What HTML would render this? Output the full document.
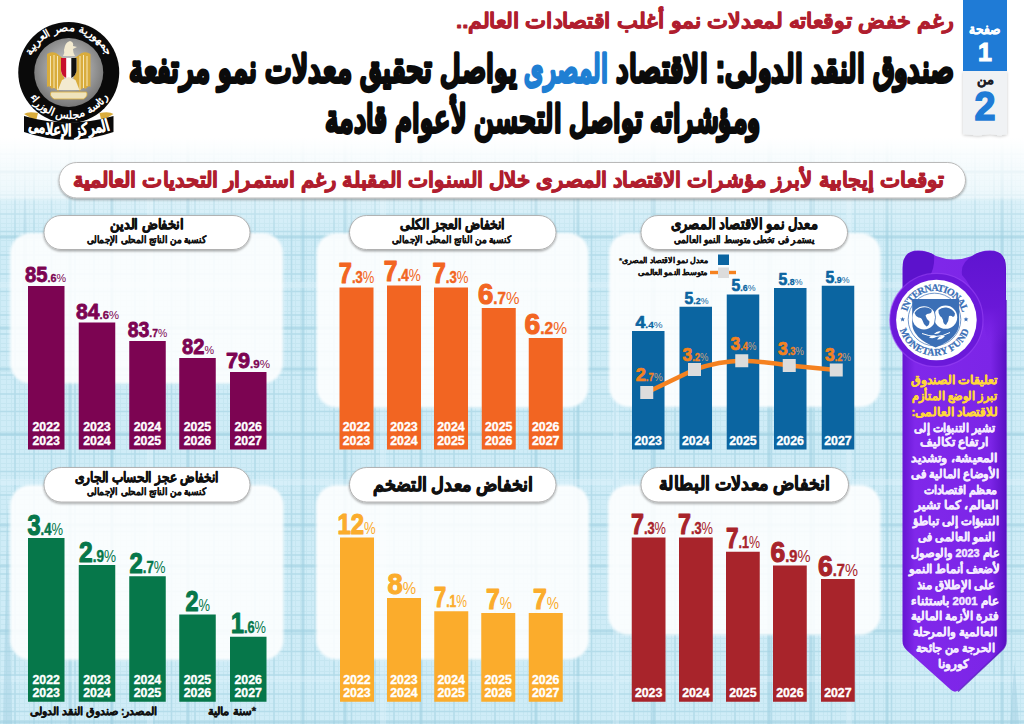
<!DOCTYPE html>
<html lang="ar">
<head>
<meta charset="utf-8">
<title>صندوق النقد الدولى: الاقتصاد المصرى يواصل تحقيق معدلات نمو مرتفعة</title>
<style>
html,body{margin:0;padding:0;background:#fff;}
body{width:1024px;height:724px;overflow:hidden;font-family:"Liberation Sans",sans-serif;}
svg{display:block;font-family:"Liberation Sans",sans-serif;}
</style>
</head>
<body>
<svg width="1024" height="724" viewBox="0 0 1024 724">
<defs>
<linearGradient id="bgfade" x1="0" y1="0" x2="0" y2="1">
 <stop offset="0" stop-color="#fff" stop-opacity="1"/>
 <stop offset="0.19" stop-color="#fff" stop-opacity="1"/>
 <stop offset="0.272" stop-color="#fff" stop-opacity=".6"/>
 <stop offset="0.278" stop-color="#fff" stop-opacity=".25"/>
 <stop offset="0.33" stop-color="#fff" stop-opacity="0"/>
</linearGradient>
<pattern id="fine" width="60" height="60" patternUnits="userSpaceOnUse">
 <rect width="60" height="60" fill="#cfecf7"/>
 <path d="M0 .5H60M0 6.5H60M0 11.5H60M0 19.5H60M0 24.5H60M0 29.5H60M0 38.5H60M0 43.5H60M0 47.5H60M0 55.5H60M.5 0V60M6.5 0V60M11.5 0V60M19.5 0V60M24.5 0V60M29.5 0V60M38.5 0V60M43.5 0V60M47.5 0V60M55.5 0V60" stroke="#c5e6f1" stroke-width="1"/>
 <path d="M0 15H60M0 34H60M0 51.5H60M15 0V60M34 0V60M51.5 0V60" stroke="#b4dcea" stroke-width="1.6"/>
</pattern>
<pattern id="coarse" width="233" height="197" patternUnits="userSpaceOnUse">
 <path d="M0 40H233M0 131H233M0 172H233" stroke="#9fd0e1" stroke-width="3" opacity=".6"/>
 <path d="M70 0V197M188 0V197M112 0V197" stroke="#9fd0e1" stroke-width="3" opacity=".6"/>
 <path d="M0 88H233M150 0V197" stroke="#e3f4fb" stroke-width="6" opacity=".35"/>
</pattern>
<filter id="sh" x="-5%" y="-20%" width="110%" height="150%">
 <feDropShadow dx="0" dy="1.4" stdDeviation="1.1" flood-color="#000" flood-opacity=".34"/>
</filter>
<filter id="sh2" x="-20%" y="-10%" width="140%" height="130%">
 <feDropShadow dx="0" dy="1" stdDeviation="1.5" flood-color="#000" flood-opacity=".22"/>
</filter>
<filter id="soft" x="-5%" y="-5%" width="110%" height="110%"><feGaussianBlur stdDeviation="1.1"/></filter>
<linearGradient id="rib" x1="0" y1="0" x2="1" y2="0">
 <stop offset="0" stop-color="#6515d2"/><stop offset=".12" stop-color="#8028ea"/>
 <stop offset=".85" stop-color="#7c25e7"/><stop offset="1" stop-color="#5a10c4"/>
</linearGradient>
<linearGradient id="shR" x1="0" y1="0" x2="0" y2="1"><stop offset="0" stop-color="#5f14d0"/><stop offset=".6" stop-color="#6a18d8"/><stop offset="1" stop-color="#7a22e6" stop-opacity="0"/></linearGradient>
<radialGradient id="gray" cx=".5" cy=".45" r=".6">
 <stop offset="0" stop-color="#d9d9d9"/><stop offset="1" stop-color="#6d6d6d"/>
</radialGradient>
</defs>
<rect width="1024" height="724" fill="url(#fine)"/>
<rect width="1024" height="724" fill="url(#coarse)"/>
<path d="M3 724 L7.5 500 L12 724Z M1010 724 L1014.5 662 L1019 724Z M22 300 L25 150 L28 300Z" fill="#9fcfe0" opacity=".45"/>
<rect width="1024" height="724" fill="url(#bgfade)"/>
<g id="header">
<text x="954" y="27.5" direction="rtl" text-anchor="start" textLength="498" lengthAdjust="spacingAndGlyphs" font-size="21" font-weight="bold" fill="#b01e2e" stroke="#b01e2e" stroke-width="0.9" stroke-linejoin="round">رغم خفض توقعاته لمعدلات نمو أغلب اقتصادات العالم..</text>
<text x="954" y="81.5" direction="rtl" text-anchor="start" textLength="338" lengthAdjust="spacingAndGlyphs" font-size="38" font-weight="bold" fill="#0b0b0b" stroke="#0b0b0b" stroke-width="2.8" stroke-linejoin="round">صندوق النقد الدولى: الاقتصاد</text>
<text x="608" y="81.5" direction="rtl" text-anchor="start" textLength="84" lengthAdjust="spacingAndGlyphs" font-size="38" font-weight="bold" fill="#1f7fd3" stroke="#1f7fd3" stroke-width="2.8" stroke-linejoin="round">المصرى</text>
<text x="517" y="81.5" direction="rtl" text-anchor="start" textLength="388" lengthAdjust="spacingAndGlyphs" font-size="38" font-weight="bold" fill="#0b0b0b" stroke="#0b0b0b" stroke-width="2.8" stroke-linejoin="round">يواصل تحقيق معدلات نمو مرتفعة</text>
<text x="760" y="132.3" direction="rtl" text-anchor="start" textLength="435" lengthAdjust="spacingAndGlyphs" font-size="38" font-weight="bold" fill="#0b0b0b" stroke="#0b0b0b" stroke-width="2.8" stroke-linejoin="round">ومؤشراته تواصل التحسن لأعوام قادمة</text>
</g>
<g id="pager">
<path d="M963 71H1007V134L1000 135.5L990 134L978 135.5L963 134Z" fill="#f0f2f4" filter="url(#sh2)"/>
<rect x="963" y="0" width="44" height="71" fill="#1f7bd6"/>
<text x="1000.5" y="33.8" direction="rtl" text-anchor="start" textLength="31.5" lengthAdjust="spacingAndGlyphs" font-size="13.5" font-weight="bold" fill="#fff" stroke="#fff" stroke-width="0.45" stroke-linejoin="round">صفحة</text>
<text x="985" y="61" text-anchor="middle" font-size="25" font-weight="bold" fill="#fff" stroke="#fff" stroke-width="1">1</text>
<text x="993.5" y="83.5" direction="rtl" text-anchor="start" textLength="17" lengthAdjust="spacingAndGlyphs" font-size="12.5" font-weight="bold" fill="#1c1c26" stroke="#1c1c26" stroke-width="0.4" stroke-linejoin="round">من</text>
<text x="985" y="120" text-anchor="middle" textLength="21" lengthAdjust="spacingAndGlyphs" font-size="41" font-weight="bold" fill="#1f7bd6" stroke="#1f7bd6" stroke-width="1.6">2</text>
</g>
<g id="subtitle">
<rect x="59" y="162.5" width="906.5" height="35.5" rx="17.75" fill="#fff" stroke="#b9b9b9" stroke-width="1" filter="url(#sh)"/>
<text x="944" y="186.7" direction="rtl" text-anchor="start" textLength="871.5" lengthAdjust="spacingAndGlyphs" font-size="21" font-weight="bold" fill="#b01e2e" stroke="#b01e2e" stroke-width="1.0" stroke-linejoin="round">توقعات إيجابية لأبرز مؤشرات الاقتصاد المصرى خلال السنوات المقبلة رغم استمرار التحديات العالمية</text>
</g>
<g id="panels">
<rect x="11" y="234" width="271" height="148.5" rx="19" fill="#fff" fill-opacity=".88" stroke="#fff" stroke-opacity=".5" stroke-width="3" filter="url(#soft)"/>
<rect x="317.5" y="234" width="270.0" height="172.5" rx="19" fill="#fff" fill-opacity=".88" stroke="#fff" stroke-opacity=".5" stroke-width="3" filter="url(#soft)"/>
<rect x="610" y="234" width="269.5" height="172" rx="19" fill="#fff" fill-opacity=".88" stroke="#fff" stroke-opacity=".5" stroke-width="3" filter="url(#soft)"/>
<rect x="11" y="486" width="271.5" height="173" rx="19" fill="#fff" fill-opacity=".88" stroke="#fff" stroke-opacity=".5" stroke-width="3" filter="url(#soft)"/>
<rect x="317" y="486" width="271" height="172.5" rx="19" fill="#fff" fill-opacity=".88" stroke="#fff" stroke-opacity=".5" stroke-width="3" filter="url(#soft)"/>
<rect x="609" y="486" width="270.5" height="148" rx="19" fill="#fff" fill-opacity=".88" stroke="#fff" stroke-opacity=".5" stroke-width="3" filter="url(#soft)"/>
</g>
<g id="chart-debt">
<rect x="28" y="286" width="36.5" height="163.5" fill="#7c0452"/>
<rect x="78.75" y="322.5" width="36.5" height="127.0" fill="#7c0452"/>
<rect x="129.25" y="341" width="36.5" height="108.5" fill="#7c0452"/>
<rect x="179.25" y="358" width="36.5" height="91.5" fill="#7c0452"/>
<rect x="230" y="372" width="36.5" height="77.5" fill="#7c0452"/>
<text x="25" y="282.4" textLength="41" lengthAdjust="spacingAndGlyphs" font-weight="bold" fill="#7c0452" stroke="#7c0452" stroke-linejoin="round"><tspan font-size="21.5" stroke-width="0.86">85</tspan><tspan font-size="11.5" stroke-width="0.34">.6</tspan><tspan font-size="11.5" font-weight="normal" fill="#7c0452" stroke="none">%</tspan></text>
<text x="76" y="318.9" textLength="43" lengthAdjust="spacingAndGlyphs" font-weight="bold" fill="#7c0452" stroke="#7c0452" stroke-linejoin="round"><tspan font-size="21.5" stroke-width="0.86">84</tspan><tspan font-size="11.5" stroke-width="0.34">.6</tspan><tspan font-size="11.5" font-weight="normal" fill="#7c0452" stroke="none">%</tspan></text>
<text x="127.75" y="337.4" textLength="39.5" lengthAdjust="spacingAndGlyphs" font-weight="bold" fill="#7c0452" stroke="#7c0452" stroke-linejoin="round"><tspan font-size="21.5" stroke-width="0.86">83</tspan><tspan font-size="11.5" stroke-width="0.34">.7</tspan><tspan font-size="11.5" font-weight="normal" fill="#7c0452" stroke="none">%</tspan></text>
<text x="182" y="354.4" textLength="32" lengthAdjust="spacingAndGlyphs" font-weight="bold" fill="#7c0452" stroke="#7c0452" stroke-linejoin="round"><tspan font-size="21.5" stroke-width="0.86">82</tspan><tspan font-size="11.5" font-weight="normal" fill="#7c0452" stroke="none">%</tspan></text>
<text x="226" y="368.4" textLength="44" lengthAdjust="spacingAndGlyphs" font-weight="bold" fill="#7c0452" stroke="#7c0452" stroke-linejoin="round"><tspan font-size="21.5" stroke-width="0.86">79</tspan><tspan font-size="11.5" stroke-width="0.34">.9</tspan><tspan font-size="11.5" font-weight="normal" fill="#7c0452" stroke="none">%</tspan></text>
<text x="46.25" y="431" text-anchor="middle" textLength="27.5" lengthAdjust="spacingAndGlyphs" font-size="12.4" font-weight="bold" fill="#fff" stroke="#fff" stroke-width=".35">2022</text>
<text x="46.25" y="445" text-anchor="middle" textLength="27.5" lengthAdjust="spacingAndGlyphs" font-size="12.4" font-weight="bold" fill="#fff" stroke="#fff" stroke-width=".35">2023</text>
<text x="97.0" y="431" text-anchor="middle" textLength="27.5" lengthAdjust="spacingAndGlyphs" font-size="12.4" font-weight="bold" fill="#fff" stroke="#fff" stroke-width=".35">2023</text>
<text x="97.0" y="445" text-anchor="middle" textLength="27.5" lengthAdjust="spacingAndGlyphs" font-size="12.4" font-weight="bold" fill="#fff" stroke="#fff" stroke-width=".35">2024</text>
<text x="147.5" y="431" text-anchor="middle" textLength="27.5" lengthAdjust="spacingAndGlyphs" font-size="12.4" font-weight="bold" fill="#fff" stroke="#fff" stroke-width=".35">2024</text>
<text x="147.5" y="445" text-anchor="middle" textLength="27.5" lengthAdjust="spacingAndGlyphs" font-size="12.4" font-weight="bold" fill="#fff" stroke="#fff" stroke-width=".35">2025</text>
<text x="197.5" y="431" text-anchor="middle" textLength="27.5" lengthAdjust="spacingAndGlyphs" font-size="12.4" font-weight="bold" fill="#fff" stroke="#fff" stroke-width=".35">2025</text>
<text x="197.5" y="445" text-anchor="middle" textLength="27.5" lengthAdjust="spacingAndGlyphs" font-size="12.4" font-weight="bold" fill="#fff" stroke="#fff" stroke-width=".35">2026</text>
<text x="248.25" y="431" text-anchor="middle" textLength="27.5" lengthAdjust="spacingAndGlyphs" font-size="12.4" font-weight="bold" fill="#fff" stroke="#fff" stroke-width=".35">2026</text>
<text x="248.25" y="445" text-anchor="middle" textLength="27.5" lengthAdjust="spacingAndGlyphs" font-size="12.4" font-weight="bold" fill="#fff" stroke="#fff" stroke-width=".35">2027</text>
<rect x="44" y="215.5" width="206" height="34.0" rx="17.0" fill="#fff" stroke="#acacac" stroke-width=".9" filter="url(#sh)"/>
<text x="184" y="229" direction="rtl" text-anchor="start" textLength="74" lengthAdjust="spacingAndGlyphs" font-size="14" font-weight="bold" fill="#111" stroke="#111" stroke-width="0.7" stroke-linejoin="round">انخفاض الدين</text>
<text x="206" y="243" direction="rtl" text-anchor="start" textLength="119" lengthAdjust="spacingAndGlyphs" font-size="10" font-weight="bold" fill="#111" stroke="#111" stroke-width="0.3" stroke-linejoin="round">كنسبة من الناتج المحلى الإجمالى</text>
</g>
<g id="chart-deficit">
<rect x="339.5" y="287.5" width="34" height="162.0" fill="#f26522"/>
<rect x="387" y="285.5" width="34" height="164.0" fill="#f26522"/>
<rect x="434" y="287.5" width="34" height="162.0" fill="#f26522"/>
<rect x="481.75" y="308" width="34" height="141.5" fill="#f26522"/>
<rect x="528.75" y="338" width="34" height="111.5" fill="#f26522"/>
<text x="338.75" y="283.0" textLength="35.5" lengthAdjust="spacingAndGlyphs" font-weight="bold" fill="#f26522" stroke="#f26522" stroke-linejoin="round"><tspan font-size="30" stroke-width="1.2">7</tspan><tspan font-size="16.5" stroke-width="0.49">.3</tspan><tspan font-size="16.5" font-weight="normal" fill="#f26522" stroke="none">%</tspan></text>
<text x="383.75" y="281.0" textLength="37" lengthAdjust="spacingAndGlyphs" font-weight="bold" fill="#f26522" stroke="#f26522" stroke-linejoin="round"><tspan font-size="30" stroke-width="1.2">7</tspan><tspan font-size="16.5" stroke-width="0.49">.4</tspan><tspan font-size="16.5" font-weight="normal" fill="#f26522" stroke="none">%</tspan></text>
<text x="432.5" y="283.0" textLength="36" lengthAdjust="spacingAndGlyphs" font-weight="bold" fill="#f26522" stroke="#f26522" stroke-linejoin="round"><tspan font-size="30" stroke-width="1.2">7</tspan><tspan font-size="16.5" stroke-width="0.49">.3</tspan><tspan font-size="16.5" font-weight="normal" fill="#f26522" stroke="none">%</tspan></text>
<text x="478" y="303.5" textLength="41.5" lengthAdjust="spacingAndGlyphs" font-weight="bold" fill="#f26522" stroke="#f26522" stroke-linejoin="round"><tspan font-size="30" stroke-width="1.2">6</tspan><tspan font-size="16.5" stroke-width="0.49">.7</tspan><tspan font-size="16.5" font-weight="normal" fill="#f26522" stroke="none">%</tspan></text>
<text x="524.5" y="333.5" textLength="42.5" lengthAdjust="spacingAndGlyphs" font-weight="bold" fill="#f26522" stroke="#f26522" stroke-linejoin="round"><tspan font-size="30" stroke-width="1.2">6</tspan><tspan font-size="16.5" stroke-width="0.49">.2</tspan><tspan font-size="16.5" font-weight="normal" fill="#f26522" stroke="none">%</tspan></text>
<text x="356.5" y="431" text-anchor="middle" textLength="27.5" lengthAdjust="spacingAndGlyphs" font-size="12.4" font-weight="bold" fill="#fff" stroke="#fff" stroke-width=".35">2022</text>
<text x="356.5" y="445" text-anchor="middle" textLength="27.5" lengthAdjust="spacingAndGlyphs" font-size="12.4" font-weight="bold" fill="#fff" stroke="#fff" stroke-width=".35">2023</text>
<text x="404.0" y="431" text-anchor="middle" textLength="27.5" lengthAdjust="spacingAndGlyphs" font-size="12.4" font-weight="bold" fill="#fff" stroke="#fff" stroke-width=".35">2023</text>
<text x="404.0" y="445" text-anchor="middle" textLength="27.5" lengthAdjust="spacingAndGlyphs" font-size="12.4" font-weight="bold" fill="#fff" stroke="#fff" stroke-width=".35">2024</text>
<text x="451.0" y="431" text-anchor="middle" textLength="27.5" lengthAdjust="spacingAndGlyphs" font-size="12.4" font-weight="bold" fill="#fff" stroke="#fff" stroke-width=".35">2024</text>
<text x="451.0" y="445" text-anchor="middle" textLength="27.5" lengthAdjust="spacingAndGlyphs" font-size="12.4" font-weight="bold" fill="#fff" stroke="#fff" stroke-width=".35">2025</text>
<text x="498.75" y="431" text-anchor="middle" textLength="27.5" lengthAdjust="spacingAndGlyphs" font-size="12.4" font-weight="bold" fill="#fff" stroke="#fff" stroke-width=".35">2025</text>
<text x="498.75" y="445" text-anchor="middle" textLength="27.5" lengthAdjust="spacingAndGlyphs" font-size="12.4" font-weight="bold" fill="#fff" stroke="#fff" stroke-width=".35">2026</text>
<text x="545.75" y="431" text-anchor="middle" textLength="27.5" lengthAdjust="spacingAndGlyphs" font-size="12.4" font-weight="bold" fill="#fff" stroke="#fff" stroke-width=".35">2026</text>
<text x="545.75" y="445" text-anchor="middle" textLength="27.5" lengthAdjust="spacingAndGlyphs" font-size="12.4" font-weight="bold" fill="#fff" stroke="#fff" stroke-width=".35">2027</text>
<rect x="349.5" y="215.5" width="206.5" height="34.0" rx="17.0" fill="#fff" stroke="#acacac" stroke-width=".9" filter="url(#sh)"/>
<text x="505" y="229" direction="rtl" text-anchor="start" textLength="105" lengthAdjust="spacingAndGlyphs" font-size="14" font-weight="bold" fill="#111" stroke="#111" stroke-width="0.7" stroke-linejoin="round">انخفاض العجز الكلى</text>
<text x="511" y="243" direction="rtl" text-anchor="start" textLength="119" lengthAdjust="spacingAndGlyphs" font-size="10" font-weight="bold" fill="#111" stroke="#111" stroke-width="0.3" stroke-linejoin="round">كنسبة من الناتج المحلى الإجمالى</text>
</g>
<g id="chart-growth">
<rect x="632" y="331" width="32.5" height="118.5" fill="#0b65a1"/>
<rect x="679.5" y="306.75" width="32.5" height="142.75" fill="#0b65a1"/>
<rect x="726.75" y="294.5" width="32.5" height="155.0" fill="#0b65a1"/>
<rect x="774" y="288" width="32.5" height="161.5" fill="#0b65a1"/>
<rect x="821.75" y="285.75" width="32.5" height="163.75" fill="#0b65a1"/>
<text x="635.5" y="327.8" textLength="27" lengthAdjust="spacingAndGlyphs" font-weight="bold" fill="#0b65a1" stroke="#0b65a1" stroke-linejoin="round"><tspan font-size="17" stroke-width="0.68">4</tspan><tspan font-size="9.5" stroke-width="0.28">.4</tspan><tspan font-size="9.5" font-weight="normal" fill="#0b65a1" stroke="none">%</tspan></text>
<text x="684.5" y="303.55" textLength="24" lengthAdjust="spacingAndGlyphs" font-weight="bold" fill="#0b65a1" stroke="#0b65a1" stroke-linejoin="round"><tspan font-size="17" stroke-width="0.68">5</tspan><tspan font-size="9.5" stroke-width="0.28">.2</tspan><tspan font-size="9.5" font-weight="normal" fill="#0b65a1" stroke="none">%</tspan></text>
<text x="731.5" y="291.3" textLength="24" lengthAdjust="spacingAndGlyphs" font-weight="bold" fill="#0b65a1" stroke="#0b65a1" stroke-linejoin="round"><tspan font-size="17" stroke-width="0.68">5</tspan><tspan font-size="9.5" stroke-width="0.28">.6</tspan><tspan font-size="9.5" font-weight="normal" fill="#0b65a1" stroke="none">%</tspan></text>
<text x="778.5" y="284.8" textLength="24" lengthAdjust="spacingAndGlyphs" font-weight="bold" fill="#0b65a1" stroke="#0b65a1" stroke-linejoin="round"><tspan font-size="17" stroke-width="0.68">5</tspan><tspan font-size="9.5" stroke-width="0.28">.8</tspan><tspan font-size="9.5" font-weight="normal" fill="#0b65a1" stroke="none">%</tspan></text>
<text x="825.5" y="282.55" textLength="24" lengthAdjust="spacingAndGlyphs" font-weight="bold" fill="#0b65a1" stroke="#0b65a1" stroke-linejoin="round"><tspan font-size="17" stroke-width="0.68">5</tspan><tspan font-size="9.5" stroke-width="0.28">.9</tspan><tspan font-size="9.5" font-weight="normal" fill="#0b65a1" stroke="none">%</tspan></text>
<text x="648.25" y="445" text-anchor="middle" textLength="27.5" lengthAdjust="spacingAndGlyphs" font-size="12.4" font-weight="bold" fill="#fff" stroke="#fff" stroke-width=".35">2023</text>
<text x="695.75" y="445" text-anchor="middle" textLength="27.5" lengthAdjust="spacingAndGlyphs" font-size="12.4" font-weight="bold" fill="#fff" stroke="#fff" stroke-width=".35">2024</text>
<text x="743.0" y="445" text-anchor="middle" textLength="27.5" lengthAdjust="spacingAndGlyphs" font-size="12.4" font-weight="bold" fill="#fff" stroke="#fff" stroke-width=".35">2025</text>
<text x="790.25" y="445" text-anchor="middle" textLength="27.5" lengthAdjust="spacingAndGlyphs" font-size="12.4" font-weight="bold" fill="#fff" stroke="#fff" stroke-width=".35">2026</text>
<text x="838.0" y="445" text-anchor="middle" textLength="27.5" lengthAdjust="spacingAndGlyphs" font-size="12.4" font-weight="bold" fill="#fff" stroke="#fff" stroke-width=".35">2027</text>
<path d="M646.75 392.5 L694.5 369.5 Q720 361 741.75 360.75 Q765 361.5 789.25 365.5 L836.25 370" fill="none" stroke="#f58220" stroke-width="4.5" stroke-linejoin="round"/>
<rect x="640.25" y="386.0" width="13" height="13" fill="#dcdcdc"/>
<rect x="688.0" y="363.0" width="13" height="13" fill="#dcdcdc"/>
<rect x="735.25" y="354.25" width="13" height="13" fill="#dcdcdc"/>
<rect x="782.75" y="359.0" width="13" height="13" fill="#dcdcdc"/>
<rect x="829.75" y="363.5" width="13" height="13" fill="#dcdcdc"/>
<text x="635.75" y="381" textLength="27" lengthAdjust="spacingAndGlyphs" font-weight="bold" fill="#f58220" stroke="#f58220" stroke-linejoin="round"><tspan font-size="18.5" stroke-width="0.74">2</tspan><tspan font-size="10" stroke-width="0.3">.7</tspan><tspan font-size="10" font-weight="normal" fill="#c9a27e" stroke="none">%</tspan></text>
<text x="682.5" y="360.75" textLength="26" lengthAdjust="spacingAndGlyphs" font-weight="bold" fill="#f58220" stroke="#f58220" stroke-linejoin="round"><tspan font-size="18.5" stroke-width="0.74">3</tspan><tspan font-size="10" stroke-width="0.3">.2</tspan><tspan font-size="10" font-weight="normal" fill="#c9a27e" stroke="none">%</tspan></text>
<text x="730.5" y="350" textLength="26" lengthAdjust="spacingAndGlyphs" font-weight="bold" fill="#f58220" stroke="#f58220" stroke-linejoin="round"><tspan font-size="18.5" stroke-width="0.74">3</tspan><tspan font-size="10" stroke-width="0.3">.4</tspan><tspan font-size="10" font-weight="normal" fill="#c9a27e" stroke="none">%</tspan></text>
<text x="778" y="354.5" textLength="26" lengthAdjust="spacingAndGlyphs" font-weight="bold" fill="#f58220" stroke="#f58220" stroke-linejoin="round"><tspan font-size="18.5" stroke-width="0.74">3</tspan><tspan font-size="10" stroke-width="0.3">.3</tspan><tspan font-size="10" font-weight="normal" fill="#c9a27e" stroke="none">%</tspan></text>
<text x="825" y="360.75" textLength="26" lengthAdjust="spacingAndGlyphs" font-weight="bold" fill="#f58220" stroke="#f58220" stroke-linejoin="round"><tspan font-size="18.5" stroke-width="0.74">3</tspan><tspan font-size="10" stroke-width="0.3">.2</tspan><tspan font-size="10" font-weight="normal" fill="#c9a27e" stroke="none">%</tspan></text>
<rect x="718" y="254.5" width="11" height="10.5" fill="#0b65a1"/>
<text x="707.5" y="263" direction="rtl" text-anchor="start" textLength="88.5" lengthAdjust="spacingAndGlyphs" font-size="8" font-weight="bold" fill="#111" stroke="#111" stroke-width="0.25" stroke-linejoin="round">معدل نمو الاقتصاد المصرى*</text>
<rect x="710" y="270.8" width="26" height="3.4" fill="#f58220"/>
<rect x="718" y="267.5" width="11" height="10.5" fill="#dcdcdc"/>
<text x="707.5" y="275" direction="rtl" text-anchor="start" textLength="70" lengthAdjust="spacingAndGlyphs" font-size="8" font-weight="bold" fill="#111" stroke="#111" stroke-width="0.25" stroke-linejoin="round">متوسط النمو العالمى</text>
<rect x="641" y="215.5" width="206.5" height="34.0" rx="17.0" fill="#fff" stroke="#acacac" stroke-width=".9" filter="url(#sh)"/>
<text x="817.5" y="229" direction="rtl" text-anchor="start" textLength="146.5" lengthAdjust="spacingAndGlyphs" font-size="14.5" font-weight="bold" fill="#111" stroke="#111" stroke-width="0.75" stroke-linejoin="round">معدل نمو الاقتصاد المصرى</text>
<text x="815" y="243" direction="rtl" text-anchor="start" textLength="141" lengthAdjust="spacingAndGlyphs" font-size="10" font-weight="bold" fill="#111" stroke="#111" stroke-width="0.3" stroke-linejoin="round">يستمر فى تخطى متوسط النمو العالمى</text>
</g>
<g id="chart-current-account">
<rect x="28" y="538" width="36.5" height="163.75" fill="#06774a"/>
<rect x="78.75" y="565" width="36.5" height="136.75" fill="#06774a"/>
<rect x="129.25" y="576.25" width="36.5" height="125.5" fill="#06774a"/>
<rect x="179.25" y="614.5" width="36.5" height="87.25" fill="#06774a"/>
<rect x="230" y="636.75" width="36.5" height="65.0" fill="#06774a"/>
<text x="27.5" y="534.5" textLength="35.5" lengthAdjust="spacingAndGlyphs" font-weight="bold" fill="#06774a" stroke="#06774a" stroke-linejoin="round"><tspan font-size="29" stroke-width="1.16">3</tspan><tspan font-size="16" stroke-width="0.48">.4</tspan><tspan font-size="16" font-weight="normal" fill="#06774a" stroke="none">%</tspan></text>
<text x="79" y="561.5" textLength="37" lengthAdjust="spacingAndGlyphs" font-weight="bold" fill="#06774a" stroke="#06774a" stroke-linejoin="round"><tspan font-size="29" stroke-width="1.16">2</tspan><tspan font-size="16" stroke-width="0.48">.9</tspan><tspan font-size="16" font-weight="normal" fill="#06774a" stroke="none">%</tspan></text>
<text x="129.5" y="572.75" textLength="36" lengthAdjust="spacingAndGlyphs" font-weight="bold" fill="#06774a" stroke="#06774a" stroke-linejoin="round"><tspan font-size="29" stroke-width="1.16">2</tspan><tspan font-size="16" stroke-width="0.48">.7</tspan><tspan font-size="16" font-weight="normal" fill="#06774a" stroke="none">%</tspan></text>
<text x="185.5" y="611.0" textLength="24.5" lengthAdjust="spacingAndGlyphs" font-weight="bold" fill="#06774a" stroke="#06774a" stroke-linejoin="round"><tspan font-size="29" stroke-width="1.16">2</tspan><tspan font-size="16" font-weight="normal" fill="#06774a" stroke="none">%</tspan></text>
<text x="231" y="633.25" textLength="35" lengthAdjust="spacingAndGlyphs" font-weight="bold" fill="#06774a" stroke="#06774a" stroke-linejoin="round"><tspan font-size="29" stroke-width="1.16">1</tspan><tspan font-size="16" stroke-width="0.48">.6</tspan><tspan font-size="16" font-weight="normal" fill="#06774a" stroke="none">%</tspan></text>
<text x="46.25" y="684" text-anchor="middle" textLength="27.5" lengthAdjust="spacingAndGlyphs" font-size="12.4" font-weight="bold" fill="#fff" stroke="#fff" stroke-width=".35">2022</text>
<text x="46.25" y="697" text-anchor="middle" textLength="27.5" lengthAdjust="spacingAndGlyphs" font-size="12.4" font-weight="bold" fill="#fff" stroke="#fff" stroke-width=".35">2023</text>
<text x="97.0" y="684" text-anchor="middle" textLength="27.5" lengthAdjust="spacingAndGlyphs" font-size="12.4" font-weight="bold" fill="#fff" stroke="#fff" stroke-width=".35">2023</text>
<text x="97.0" y="697" text-anchor="middle" textLength="27.5" lengthAdjust="spacingAndGlyphs" font-size="12.4" font-weight="bold" fill="#fff" stroke="#fff" stroke-width=".35">2024</text>
<text x="147.5" y="684" text-anchor="middle" textLength="27.5" lengthAdjust="spacingAndGlyphs" font-size="12.4" font-weight="bold" fill="#fff" stroke="#fff" stroke-width=".35">2024</text>
<text x="147.5" y="697" text-anchor="middle" textLength="27.5" lengthAdjust="spacingAndGlyphs" font-size="12.4" font-weight="bold" fill="#fff" stroke="#fff" stroke-width=".35">2025</text>
<text x="197.5" y="684" text-anchor="middle" textLength="27.5" lengthAdjust="spacingAndGlyphs" font-size="12.4" font-weight="bold" fill="#fff" stroke="#fff" stroke-width=".35">2025</text>
<text x="197.5" y="697" text-anchor="middle" textLength="27.5" lengthAdjust="spacingAndGlyphs" font-size="12.4" font-weight="bold" fill="#fff" stroke="#fff" stroke-width=".35">2026</text>
<text x="248.25" y="684" text-anchor="middle" textLength="27.5" lengthAdjust="spacingAndGlyphs" font-size="12.4" font-weight="bold" fill="#fff" stroke="#fff" stroke-width=".35">2026</text>
<text x="248.25" y="697" text-anchor="middle" textLength="27.5" lengthAdjust="spacingAndGlyphs" font-size="12.4" font-weight="bold" fill="#fff" stroke="#fff" stroke-width=".35">2027</text>
<rect x="44" y="467.5" width="206" height="34.5" rx="17.25" fill="#fff" stroke="#acacac" stroke-width=".9" filter="url(#sh)"/>
<text x="218.75" y="481.7" direction="rtl" text-anchor="start" textLength="144" lengthAdjust="spacingAndGlyphs" font-size="14" font-weight="bold" fill="#111" stroke="#111" stroke-width="0.7" stroke-linejoin="round">انخفاض عجز الحساب الجارى</text>
<text x="206" y="495.2" direction="rtl" text-anchor="start" textLength="119" lengthAdjust="spacingAndGlyphs" font-size="10" font-weight="bold" fill="#111" stroke="#111" stroke-width="0.3" stroke-linejoin="round">كنسبة من الناتج المحلى الإجمالى</text>
<text x="157.5" y="715" direction="rtl" text-anchor="start" textLength="127.5" lengthAdjust="spacingAndGlyphs" font-size="10.5" font-weight="bold" fill="#111" stroke="#111" stroke-width="0.4" stroke-linejoin="round">المصدر: صندوق النقد الدولى</text>
<text x="256" y="715" direction="rtl" text-anchor="start" textLength="48.5" lengthAdjust="spacingAndGlyphs" font-size="10.5" font-weight="bold" fill="#111" stroke="#111" stroke-width="0.4" stroke-linejoin="round">*سنة مالية</text>
</g>
<g id="chart-inflation">
<rect x="340" y="537.5" width="34" height="164.25" fill="#fbac2c"/>
<rect x="387" y="598" width="34" height="103.75" fill="#fbac2c"/>
<rect x="434.25" y="611.25" width="34" height="90.5" fill="#fbac2c"/>
<rect x="481.25" y="613" width="34" height="88.75" fill="#fbac2c"/>
<rect x="528.75" y="613" width="34" height="88.75" fill="#fbac2c"/>
<text x="337.5" y="533.7" textLength="38.25" lengthAdjust="spacingAndGlyphs" font-weight="bold" fill="#fbac2c" stroke="#fbac2c" stroke-linejoin="round"><tspan font-size="29" stroke-width="1.16">12</tspan><tspan font-size="16" font-weight="normal" fill="#fbac2c" stroke="none">%</tspan></text>
<text x="387.5" y="594.2" textLength="28.5" lengthAdjust="spacingAndGlyphs" font-weight="bold" fill="#fbac2c" stroke="#fbac2c" stroke-linejoin="round"><tspan font-size="29" stroke-width="1.16">8</tspan><tspan font-size="16" font-weight="normal" fill="#fbac2c" stroke="none">%</tspan></text>
<text x="434" y="607.45" textLength="33" lengthAdjust="spacingAndGlyphs" font-weight="bold" fill="#fbac2c" stroke="#fbac2c" stroke-linejoin="round"><tspan font-size="29" stroke-width="1.16">7</tspan><tspan font-size="16" stroke-width="0.48">.1</tspan><tspan font-size="16" font-weight="normal" fill="#fbac2c" stroke="none">%</tspan></text>
<text x="486" y="609.2" textLength="26" lengthAdjust="spacingAndGlyphs" font-weight="bold" fill="#fbac2c" stroke="#fbac2c" stroke-linejoin="round"><tspan font-size="29" stroke-width="1.16">7</tspan><tspan font-size="16" font-weight="normal" fill="#fbac2c" stroke="none">%</tspan></text>
<text x="533" y="609.2" textLength="26" lengthAdjust="spacingAndGlyphs" font-weight="bold" fill="#fbac2c" stroke="#fbac2c" stroke-linejoin="round"><tspan font-size="29" stroke-width="1.16">7</tspan><tspan font-size="16" font-weight="normal" fill="#fbac2c" stroke="none">%</tspan></text>
<text x="357.0" y="684" text-anchor="middle" textLength="27.5" lengthAdjust="spacingAndGlyphs" font-size="12.4" font-weight="bold" fill="#fff" stroke="#fff" stroke-width=".35">2022</text>
<text x="357.0" y="697" text-anchor="middle" textLength="27.5" lengthAdjust="spacingAndGlyphs" font-size="12.4" font-weight="bold" fill="#fff" stroke="#fff" stroke-width=".35">2023</text>
<text x="404.0" y="684" text-anchor="middle" textLength="27.5" lengthAdjust="spacingAndGlyphs" font-size="12.4" font-weight="bold" fill="#fff" stroke="#fff" stroke-width=".35">2023</text>
<text x="404.0" y="697" text-anchor="middle" textLength="27.5" lengthAdjust="spacingAndGlyphs" font-size="12.4" font-weight="bold" fill="#fff" stroke="#fff" stroke-width=".35">2024</text>
<text x="451.25" y="684" text-anchor="middle" textLength="27.5" lengthAdjust="spacingAndGlyphs" font-size="12.4" font-weight="bold" fill="#fff" stroke="#fff" stroke-width=".35">2024</text>
<text x="451.25" y="697" text-anchor="middle" textLength="27.5" lengthAdjust="spacingAndGlyphs" font-size="12.4" font-weight="bold" fill="#fff" stroke="#fff" stroke-width=".35">2025</text>
<text x="498.25" y="684" text-anchor="middle" textLength="27.5" lengthAdjust="spacingAndGlyphs" font-size="12.4" font-weight="bold" fill="#fff" stroke="#fff" stroke-width=".35">2025</text>
<text x="498.25" y="697" text-anchor="middle" textLength="27.5" lengthAdjust="spacingAndGlyphs" font-size="12.4" font-weight="bold" fill="#fff" stroke="#fff" stroke-width=".35">2026</text>
<text x="545.75" y="684" text-anchor="middle" textLength="27.5" lengthAdjust="spacingAndGlyphs" font-size="12.4" font-weight="bold" fill="#fff" stroke="#fff" stroke-width=".35">2026</text>
<text x="545.75" y="697" text-anchor="middle" textLength="27.5" lengthAdjust="spacingAndGlyphs" font-size="12.4" font-weight="bold" fill="#fff" stroke="#fff" stroke-width=".35">2027</text>
<rect x="349.5" y="467.5" width="206.5" height="34.5" rx="17.25" fill="#fff" stroke="#acacac" stroke-width=".9" filter="url(#sh)"/>
<text x="532.5" y="491.2" direction="rtl" text-anchor="start" textLength="159.5" lengthAdjust="spacingAndGlyphs" font-size="18.5" font-weight="bold" fill="#111" stroke="#111" stroke-width="1.0" stroke-linejoin="round">انخفاض معدل التضخم</text>
</g>
<g id="chart-unemployment">
<rect x="631.75" y="537.5" width="33.75" height="164.25" fill="#a8242b"/>
<rect x="679" y="537.5" width="33.75" height="164.25" fill="#a8242b"/>
<rect x="726" y="551.75" width="33.75" height="150.0" fill="#a8242b"/>
<rect x="773" y="565.5" width="33.75" height="136.25" fill="#a8242b"/>
<rect x="821" y="579" width="33.75" height="122.75" fill="#a8242b"/>
<text x="631" y="534.0" textLength="35" lengthAdjust="spacingAndGlyphs" font-weight="bold" fill="#a8242b" stroke="#a8242b" stroke-linejoin="round"><tspan font-size="29" stroke-width="1.16">7</tspan><tspan font-size="16" stroke-width="0.48">.3</tspan><tspan font-size="16" font-weight="normal" fill="#a8242b" stroke="none">%</tspan></text>
<text x="678" y="534.0" textLength="35" lengthAdjust="spacingAndGlyphs" font-weight="bold" fill="#a8242b" stroke="#a8242b" stroke-linejoin="round"><tspan font-size="29" stroke-width="1.16">7</tspan><tspan font-size="16" stroke-width="0.48">.3</tspan><tspan font-size="16" font-weight="normal" fill="#a8242b" stroke="none">%</tspan></text>
<text x="726" y="548.25" textLength="34" lengthAdjust="spacingAndGlyphs" font-weight="bold" fill="#a8242b" stroke="#a8242b" stroke-linejoin="round"><tspan font-size="29" stroke-width="1.16">7</tspan><tspan font-size="16" stroke-width="0.48">.1</tspan><tspan font-size="16" font-weight="normal" fill="#a8242b" stroke="none">%</tspan></text>
<text x="770.5" y="562.0" textLength="40" lengthAdjust="spacingAndGlyphs" font-weight="bold" fill="#a8242b" stroke="#a8242b" stroke-linejoin="round"><tspan font-size="29" stroke-width="1.16">6</tspan><tspan font-size="16" stroke-width="0.48">.9</tspan><tspan font-size="16" font-weight="normal" fill="#a8242b" stroke="none">%</tspan></text>
<text x="818" y="575.5" textLength="40" lengthAdjust="spacingAndGlyphs" font-weight="bold" fill="#a8242b" stroke="#a8242b" stroke-linejoin="round"><tspan font-size="29" stroke-width="1.16">6</tspan><tspan font-size="16" stroke-width="0.48">.7</tspan><tspan font-size="16" font-weight="normal" fill="#a8242b" stroke="none">%</tspan></text>
<text x="648.625" y="697" text-anchor="middle" textLength="27.5" lengthAdjust="spacingAndGlyphs" font-size="12.4" font-weight="bold" fill="#fff" stroke="#fff" stroke-width=".35">2023</text>
<text x="695.875" y="697" text-anchor="middle" textLength="27.5" lengthAdjust="spacingAndGlyphs" font-size="12.4" font-weight="bold" fill="#fff" stroke="#fff" stroke-width=".35">2024</text>
<text x="742.875" y="697" text-anchor="middle" textLength="27.5" lengthAdjust="spacingAndGlyphs" font-size="12.4" font-weight="bold" fill="#fff" stroke="#fff" stroke-width=".35">2025</text>
<text x="789.875" y="697" text-anchor="middle" textLength="27.5" lengthAdjust="spacingAndGlyphs" font-size="12.4" font-weight="bold" fill="#fff" stroke="#fff" stroke-width=".35">2026</text>
<text x="837.875" y="697" text-anchor="middle" textLength="27.5" lengthAdjust="spacingAndGlyphs" font-size="12.4" font-weight="bold" fill="#fff" stroke="#fff" stroke-width=".35">2027</text>
<rect x="641" y="467.5" width="207.5" height="34.5" rx="17.25" fill="#fff" stroke="#acacac" stroke-width=".9" filter="url(#sh)"/>
<text x="829.5" y="490.2" direction="rtl" text-anchor="start" textLength="170.5" lengthAdjust="spacingAndGlyphs" font-size="18.5" font-weight="bold" fill="#111" stroke="#111" stroke-width="1.0" stroke-linejoin="round">انخفاض معدلات البطالة</text>
</g>
<g id="imf-ribbon">
<path d="M902.5 268 Q902.5 250.5 918 250.5 Q928 250.5 936 256 Q954 263 972 256 Q980 250.5 990 250.5 Q1006 250.5 1006 268 V641 Q1006 646.5 1001.5 650.5 L959.5 689.500 Q955 693.8 950.5 689.500 L907 650.5 Q902.5 646.5 902.5 641 Z" fill="url(#rib)"/>
<path d="M958 691.500 L1001.5 650.5 Q1006 646.5 1006 641 V300" fill="none" stroke="#5510be" stroke-width="1.6" opacity=".8"/>
<path d="M903 300 V268 Q903 251 918 251 Q928 251 934 255 Q936 275 918 290 Z" fill="#5c12cc"/>
<path d="M1005.5 345 V268 Q1005.5 251 990 251 Q980 251 974 255 Q960 262 962 275 Q978 292 988 345 Z" fill="url(#shR)"/>
<circle cx="936.4" cy="320" r="46.6" fill="#6b19da"/>
<circle cx="936.4" cy="320" r="46.6" fill="none" stroke="#9a45f5" stroke-width="1.2" opacity=".6"/>
<circle cx="936.4" cy="320" r="40.3" fill="#fff"/>
<path id="imfTop" d="M907.72 329.25 A28.5 28.5 0 1 1 961.28 329.25" fill="none"/>
<path id="imfBot" d="M898.64 322.64 A36 36 0 0 0 970.36 322.64" fill="none"/>
<text font-family="'Liberation Serif',serif" font-weight="bold" font-size="10" fill="#3b6fb6" stroke="#3b6fb6" stroke-width=".25" letter-spacing="-.85"><textPath href="#imfTop" startOffset="50%" text-anchor="middle">INTERNATIONAL</textPath></text>
<text font-family="'Liberation Serif',serif" font-weight="bold" font-size="10" fill="#3b6fb6" stroke="#3b6fb6" stroke-width=".25" letter-spacing=".25"><textPath href="#imfBot" startOffset="50%" text-anchor="middle">MONETARY FUND</textPath></text>
<circle cx="934.5" cy="319.5" r="26.3" fill="none" stroke="#3b6fb6" stroke-width=".7"/>
<path d="M902.6 316.9l.7 1.6 1.7.1-1.3 1.1.4 1.7-1.5-.9-1.5.9.4-1.7-1.3-1.1 1.7-.1zM966 316.9l.7 1.6 1.7.1-1.3 1.1.4 1.7-1.5-.9-1.5.9.4-1.7-1.3-1.1 1.7-.1z" fill="#3b6fb6"/>
<path d="M912.2 299 H959.2 V323 Q959.2 338 935.7 347.5 Q912.2 338 912.2 323 Z" fill="#3b6fb6"/>
<circle cx="924" cy="317.8" r="11.6" fill="#fff"/><circle cx="945.6" cy="317.2" r="11.6" fill="#fff"/>
<path d="M934 309 q3 8 0 17" fill="none" stroke="#3b6fb6" stroke-width=".8"/>
<path d="M914.5 313 q3 -5 8 -5.5 q5 -1 9 2 q1 3 -2 4 q-3 0 -4 2 q1 4 4 6 q0 4 -3 5 q-3 -2 -4 -6 q-1 -3 -4 -3 q-3 -1 -4 -4.500z" fill="#3b6fb6"/>
<path d="M938.5 310 q3 -3 8 -2.5 q6 1 8.5 6 q0 3 -2 3.500 q-2 -2 -4 -1 q0 5 -3 9 q-3 -1 -3 -5 q-1 -3 -3 -4 q-2 -3 -1.500 -6z" fill="#3b6fb6"/>
<path d="M922 333.500 q7 2.500 13 3 q8 0 15 -4" fill="none" stroke="#fff" stroke-width="1"/>
<path d="M929 337.500 q4 -4 8 -1 q-4 3 -8 1zM937 339.500 q3 -5 8 -3.500 q-3 4 -8 3.500zM934 334 q3 -3.500 7 -2.500 q-3 3 -7 2.500z" fill="#fff"/>
</g>
<g id="imf-text">
<text x="997.6" y="384.2" direction="rtl" text-anchor="start" textLength="86.2" lengthAdjust="spacingAndGlyphs" font-size="11.5" font-weight="bold" fill="#ffd83a" stroke="#ffd83a" stroke-width="0.45" stroke-linejoin="round">تعليقات الصندوق</text>
<text x="996.7" y="400.0" direction="rtl" text-anchor="start" textLength="84.7" lengthAdjust="spacingAndGlyphs" font-size="11.5" font-weight="bold" fill="#ffd83a" stroke="#ffd83a" stroke-width="0.45" stroke-linejoin="round">تبرز الوضع المتأزم</text>
<text x="997.6" y="415.7" direction="rtl" text-anchor="start" textLength="86.2" lengthAdjust="spacingAndGlyphs" font-size="11.5" font-weight="bold" fill="#ffd83a" stroke="#ffd83a" stroke-width="0.45" stroke-linejoin="round">للاقتصاد العالمى:</text>
<text x="995" y="431.7" direction="rtl" text-anchor="start" textLength="81" lengthAdjust="spacingAndGlyphs" font-size="11.5" font-weight="bold" fill="#f4ecff" stroke="#f4ecff" stroke-width="0.45" stroke-linejoin="round">تشير التنبؤات إلى</text>
<text x="987.7" y="446.2" direction="rtl" text-anchor="start" textLength="67.3" lengthAdjust="spacingAndGlyphs" font-size="11.5" font-weight="bold" fill="#f4ecff" stroke="#f4ecff" stroke-width="0.45" stroke-linejoin="round">ارتفاع تكاليف</text>
<text x="997.6" y="462.0" direction="rtl" text-anchor="start" textLength="86.2" lengthAdjust="spacingAndGlyphs" font-size="11.5" font-weight="bold" fill="#f4ecff" stroke="#f4ecff" stroke-width="0.45" stroke-linejoin="round">المعيشة، وتشديد</text>
<text x="998.5" y="477.7" direction="rtl" text-anchor="start" textLength="87.5" lengthAdjust="spacingAndGlyphs" font-size="11.5" font-weight="bold" fill="#f4ecff" stroke="#f4ecff" stroke-width="0.45" stroke-linejoin="round">الأوضاع المالية فى</text>
<text x="996.7" y="493.7" direction="rtl" text-anchor="start" textLength="73" lengthAdjust="spacingAndGlyphs" font-size="11.5" font-weight="bold" fill="#f4ecff" stroke="#f4ecff" stroke-width="0.45" stroke-linejoin="round">معظم اقتصادات</text>
<text x="998.5" y="509.2" direction="rtl" text-anchor="start" textLength="84" lengthAdjust="spacingAndGlyphs" font-size="11.5" font-weight="bold" fill="#f4ecff" stroke="#f4ecff" stroke-width="0.45" stroke-linejoin="round">العالم، كما تشير</text>
<text x="998.5" y="524.7" direction="rtl" text-anchor="start" textLength="85.7" lengthAdjust="spacingAndGlyphs" font-size="11.5" font-weight="bold" fill="#f4ecff" stroke="#f4ecff" stroke-width="0.45" stroke-linejoin="round">التنبؤات إلى تباطؤ</text>
<text x="994.8" y="540.7" direction="rtl" text-anchor="start" textLength="76.8" lengthAdjust="spacingAndGlyphs" font-size="11.5" font-weight="bold" fill="#f4ecff" stroke="#f4ecff" stroke-width="0.45" stroke-linejoin="round">النمو العالمى فى</text>
<text x="999.6" y="556.7" direction="rtl" text-anchor="start" textLength="88.6" lengthAdjust="spacingAndGlyphs" font-size="11.5" font-weight="bold" fill="#f4ecff" stroke="#f4ecff" stroke-width="0.45" stroke-linejoin="round">عام 2023 والوصول</text>
<text x="1000" y="572.7" direction="rtl" text-anchor="start" textLength="91" lengthAdjust="spacingAndGlyphs" font-size="11.5" font-weight="bold" fill="#f4ecff" stroke="#f4ecff" stroke-width="0.45" stroke-linejoin="round">لأضعف أنماط النمو</text>
<text x="994.8" y="588.7" direction="rtl" text-anchor="start" textLength="78.3" lengthAdjust="spacingAndGlyphs" font-size="11.5" font-weight="bold" fill="#f4ecff" stroke="#f4ecff" stroke-width="0.45" stroke-linejoin="round">على الإطلاق منذ</text>
<text x="998.5" y="604.7" direction="rtl" text-anchor="start" textLength="87.5" lengthAdjust="spacingAndGlyphs" font-size="11.5" font-weight="bold" fill="#f4ecff" stroke="#f4ecff" stroke-width="0.45" stroke-linejoin="round">عام 2001 باستثناء</text>
<text x="998.5" y="620.1" direction="rtl" text-anchor="start" textLength="87.5" lengthAdjust="spacingAndGlyphs" font-size="11.5" font-weight="bold" fill="#f4ecff" stroke="#f4ecff" stroke-width="0.45" stroke-linejoin="round">فترة الأزمة المالية</text>
<text x="996.7" y="636.2" direction="rtl" text-anchor="start" textLength="84" lengthAdjust="spacingAndGlyphs" font-size="11.5" font-weight="bold" fill="#f4ecff" stroke="#f4ecff" stroke-width="0.45" stroke-linejoin="round">العالمية والمرحلة</text>
<text x="994.8" y="652.4000000000001" direction="rtl" text-anchor="start" textLength="79" lengthAdjust="spacingAndGlyphs" font-size="11.5" font-weight="bold" fill="#f4ecff" stroke="#f4ecff" stroke-width="0.45" stroke-linejoin="round">الحرجة من جائحة</text>
<text x="969.3" y="667.7" direction="rtl" text-anchor="start" textLength="31" lengthAdjust="spacingAndGlyphs" font-size="11.5" font-weight="bold" fill="#f4ecff" stroke="#f4ecff" stroke-width="0.45" stroke-linejoin="round">كورونا</text>
</g>
<g id="cabinet-logo">
<circle cx="68.75" cy="72.5" r="50.5" fill="#0a0a0a"/>
<circle cx="68.75" cy="72.5" r="34.5" fill="url(#gray)"/>
<path d="M47 54 q4 -3 9 -1 l8 6 v26 l-6 6 q-4 -5 -6 -2 q-3 -4 -5 -2 z" fill="#d9ac3c"/>
<path d="M90.5 54 q-4 -3 -9 -1 l-8 6 v26 l6 6 q4 -5 6 -2 q3 -4 5 -2 z" fill="#d9ac3c"/>
<path d="M50.5 56V86M54 55V88M57.5 56V90M80 56V90M83.5 55V88M87 56V86" stroke="#fff7d6" stroke-width="1" opacity=".8"/>
<path d="M64 50 q1 -8 6 -9 q4 1 3 5 l4 1 l-4 2 q0 4 2 7 h-12 q2 -3 1 -6z" fill="#f3ead0"/>
<path d="M61 58 h15.5 v12 q0 6 -7.75 10 q-7.75 -4 -7.75 -10z" fill="#fff"/>
<path d="M61 58 h5.2 v20 q-5.2 -3 -5.2 -8z" fill="#c8102e"/><path d="M71.3 58 h5.2 v12 q0 5 -5.2 8z" fill="#111"/>
<path d="M62 80 l6.75 -3 l6.75 3 l4 10 h-21.5z" fill="#f3ead0"/>
<path d="M51 92 h35.5 q2 4 -3 7 h-29.5 q-5 -3 -3 -7z" fill="#efe3bd" stroke="#d9ac3c" stroke-width=".8"/>
<path id="cabTop" d="M27.5 72.5 A41.25 41.25 0 0 1 110 72.5" fill="none"/>
<path id="cabBot" d="M22.5 72.5 A46.25 46.25 0 0 0 115 72.5" fill="none"/>
<text font-size="11" font-weight="bold" fill="#fff" direction="rtl"><textPath href="#cabTop" startOffset="50%" text-anchor="middle">جمهورية مصر العربية</textPath></text>
<text font-size="11" font-weight="bold" fill="#fff" direction="rtl"><textPath href="#cabBot" startOffset="50%" text-anchor="middle">رئاسة مجلس الوزراء</textPath></text>
<path d="M24 114 q4 -3 14 -1 l-2 8 z" fill="#d9ac3c"/><path d="M113.5 114 q-4 -3 -14 -1 l2 8 z" fill="#d9ac3c"/>
<path d="M24 116 Q68.75 129 113.5 116 L113.5 132 Q68.75 147.5 24 132 Z" fill="#0a0a0a"/>
<path id="cabBan" d="M24 128.500 Q68.75 143 113.5 128.500" fill="none"/>
<text font-size="16" font-weight="bold" fill="#fff" stroke="#fff" stroke-width=".5" direction="rtl"><textPath href="#cabBan" startOffset="50%" text-anchor="middle" textLength="83" lengthAdjust="spacingAndGlyphs">المركز الإعلامى</textPath></text>
</g>
</svg>
</body>
</html>
